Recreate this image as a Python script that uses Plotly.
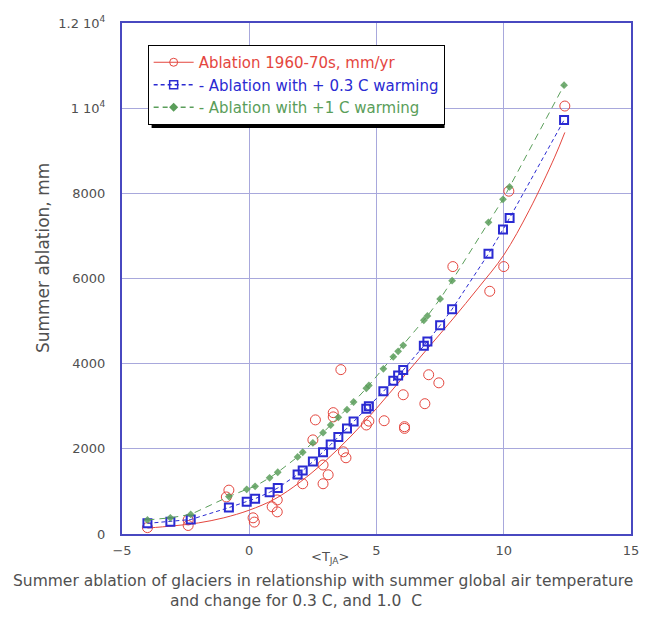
import plotly.graph_objects as go

# ---------------- data ----------------
obs_x = [-4.0, -2.4, -2.4, -0.9, -0.8, 0.15, 0.2, 0.9, 1.1, 1.1, 2.1, 2.5, 2.6, 2.9, 2.9,
         3.1, 3.3, 3.3, 3.6, 3.7, 3.8, 4.6, 4.7, 5.3, 6.05, 6.1, 6.1, 6.9, 7.05, 7.45,
         8.0, 9.45, 10.0, 10.2, 12.4]
obs_y = [150, 200, 330, 870, 1030, 380, 280, 640, 800, 520, 1180, 2210, 2680, 1180, 1620,
         1390, 2850, 2750, 3860, 1930, 1790, 2560, 2650, 2660, 3270, 2520, 2480, 3060, 3740, 3550,
         6280, 5700, 6280, 8050, 10050]

fit_x = [-4, -3, -2, -1, 0, 1, 2, 3, 4, 5, 6, 7, 8, 9, 10, 11, 12, 12.4]
fit_y = [140, 190, 260, 380, 560, 820, 1220, 1720, 2300, 2950, 3650, 4350, 5050, 5780, 6550,
         7600, 8850, 9430]

warm_x = [-4.0, -3.1, -2.3, -0.8, -0.1, 0.23, 0.8, 1.12, 1.9, 2.1, 2.5, 2.9, 3.2, 3.5, 3.84,
          4.1, 4.6, 4.7, 5.27, 5.66, 5.85, 6.05, 6.86, 7.0, 7.5, 7.97, 9.4, 9.97, 10.23, 12.37]
warm03_y = [250, 290, 340, 620, 760, 830, 980, 1080, 1400, 1490, 1700, 1920, 2100, 2280, 2480,
            2640, 2940, 3000, 3350, 3600, 3720, 3850, 4420, 4520, 4900, 5280, 6580, 7150, 7420, 9720]
warm10_y = [330, 380, 460, 880, 1050, 1120, 1320, 1450, 1810, 1920, 2140, 2380, 2560, 2740, 2920,
            3100, 3420, 3490, 3880, 4160, 4290, 4430, 5020, 5120, 5520, 5950, 7320, 7860, 8150, 10540]

y_tickvals = [0, 2000, 4000, 6000, 8000, 10000, 12000]
y_ticktext = ["0", "2000", "4000", "6000", "8000", "1 10<sup>4</sup>", "1.2 10<sup>4</sup>"]
x_tickvals = [-5, 0, 5, 10, 15]

names = ["Ablation 1960-70s, mm/yr", "- Ablation with + 0.3 C warming", "- Ablation with +1 C warming"]

# ---------------- style ----------------
RED = "#e4463e"
BLUE = "#2a2ad2"
GREEN = "#5a9e5a"
FONT = "DejaVu Sans"
TXT = "#505050"

W, H = 651, 618
L, R, T, B = 122, 13, 23, 84
PW, PH = W - L - R, H - T - B


def px(xp):
    return (xp - L) / PW


def py(yp):
    return (H - B - yp) / PH


fig = go.Figure()

fig.add_trace(go.Scatter(x=fit_x, y=fit_y, mode="lines", line=dict(color=RED, width=1, shape="spline"),
                         showlegend=False, hoverinfo="skip"))
fig.add_trace(go.Scatter(x=obs_x, y=obs_y, mode="markers",
                         marker=dict(symbol="circle-open", size=10, color=RED, line=dict(width=1)),
                         showlegend=False))
fig.add_trace(go.Scatter(x=warm_x, y=warm03_y, mode="lines+markers",
                         line=dict(color=BLUE, width=1, dash="4px,3px"),
                         marker=dict(symbol="square-open", size=8, color=BLUE, line=dict(width=2)),
                         showlegend=False))
fig.add_trace(go.Scatter(x=warm_x, y=warm10_y, mode="lines+markers",
                         line=dict(color=GREEN, width=1, dash="7px,5px"),
                         marker=dict(symbol="diamond", size=6, color=GREEN, opacity=0.85),
                         showlegend=False))

# legend entries
fig.add_trace(go.Scatter(x=[None], y=[None], mode="lines+markers",
                         line=dict(color=RED, width=1),
                         marker=dict(symbol="circle-open", size=8, color=RED),
                         name=f"<span style='color:{RED}'>{names[0]}</span>"))
fig.add_trace(go.Scatter(x=[None], y=[None], mode="lines+markers",
                         line=dict(color=BLUE, width=1.5, dash="4px,3px"),
                         marker=dict(symbol="square-open", size=8, color=BLUE, line=dict(width=1.5)),
                         name=f"<span style='color:{BLUE}'>{names[1]}</span>"))
fig.add_trace(go.Scatter(x=[None], y=[None], mode="lines+markers",
                         line=dict(color=GREEN, width=1.5, dash="5px,4px"),
                         marker=dict(symbol="diamond", size=7, color=GREEN),
                         name=f"<span style='color:{GREEN}'>{names[2]}</span>"))

AX = "#4848c0"
GRID = "#a8a8dc"

fig.update_layout(
    width=W, height=H,
    margin=dict(l=L, r=R, t=T, b=B),
    paper_bgcolor="white", plot_bgcolor="white",
    font=dict(family=FONT, size=13, color=TXT),
    xaxis=dict(range=[-5, 15], tickvals=x_tickvals, showgrid=True, gridcolor=GRID, gridwidth=1,
               showline=True, linecolor=AX, linewidth=2, mirror=True, zeroline=False,
               ticks="", ticklabelstandoff=3, tickfont=dict(size=13, color=TXT)),
    yaxis=dict(range=[0, 12000], tickvals=y_tickvals, ticktext=y_ticktext, showgrid=True,
               gridcolor=GRID, gridwidth=1, showline=True, linecolor=AX, linewidth=2, mirror=True,
               zeroline=False, ticks="", ticklabelstandoff=12, tickfont=dict(size=13, color=TXT)),
    legend=dict(x=px(148), y=py(45), xanchor="left", yanchor="top", bgcolor="white",
                bordercolor="black", borderwidth=1, font=dict(size=15, family=FONT),
                itemwidth=40, tracegroupgap=0),
    showlegend=True,
)

# legend shadow
fig.add_shape(type="rect", xref="paper", yref="paper", x0=px(152), x1=px(449), y0=py(128), y1=py(49),
              fillcolor="black", line=dict(width=0), layer="above")

ann = [
    dict(text="Summer ablation, mm", x=px(42), y=py(258), textangle=-90, font=dict(size=17)),
    dict(text="&lt;T<sub>JA</sub>&gt;", x=px(333), y=py(557), font=dict(size=13)),
    dict(text="Summer ablation of glaciers in relationship with summer global air temperature",
         x=px(326), y=py(581), font=dict(size=15.5)),
    dict(text="and change for 0.3 C, and 1.0  C", x=px(298), y=py(601), font=dict(size=15.5)),
]
for a in ann:
    fig.add_annotation(xref="paper", yref="paper", showarrow=False, xanchor="center", yanchor="middle", **a)

fig.write_html("out.html")
